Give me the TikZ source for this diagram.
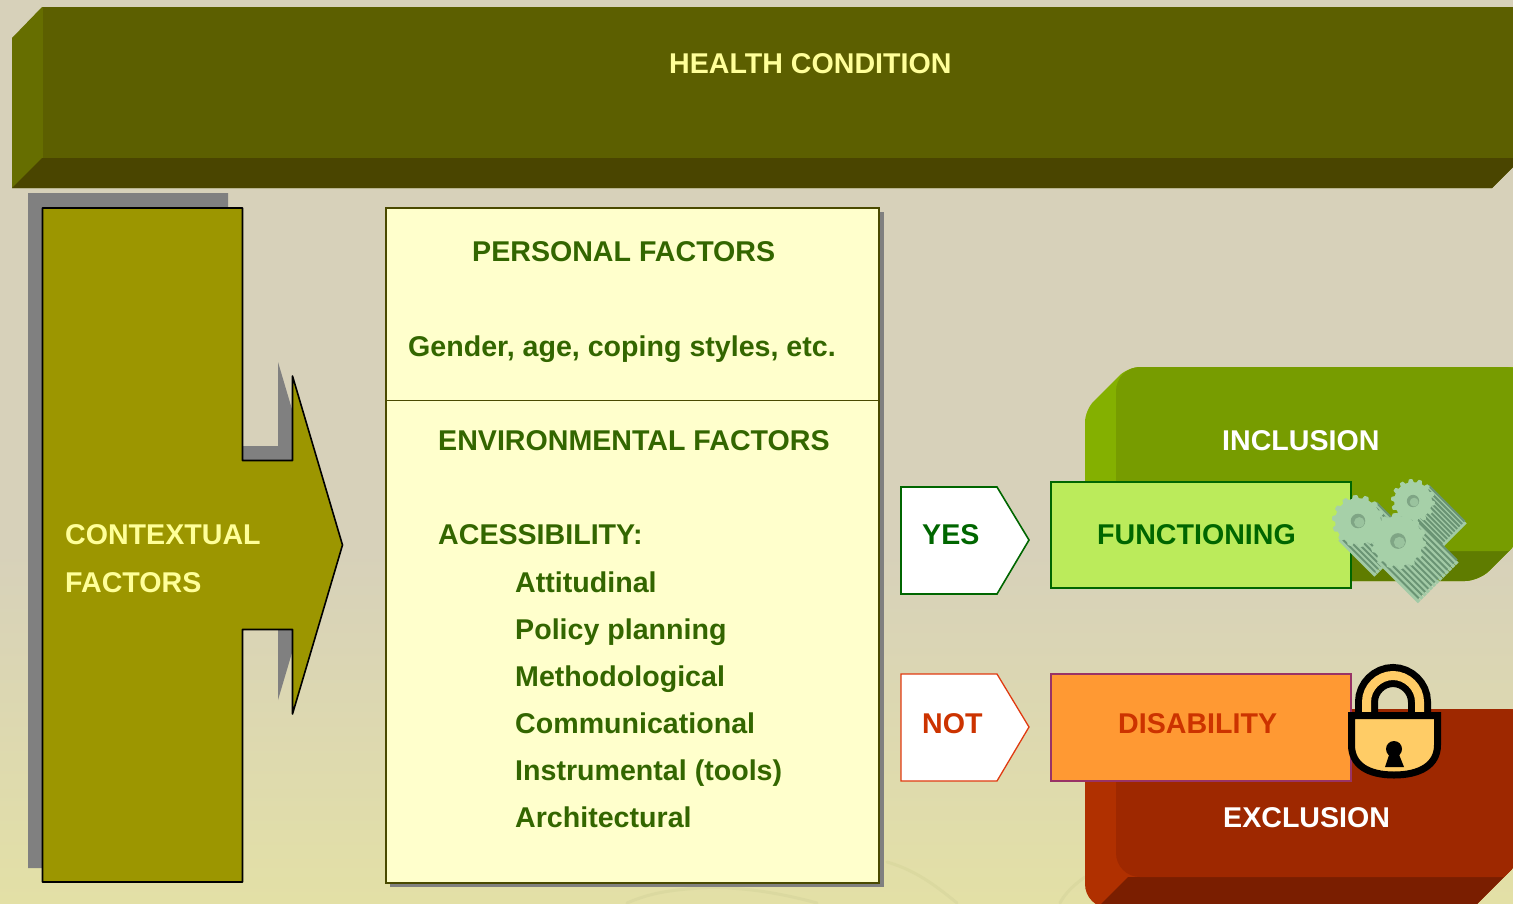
\documentclass[tikz,border=0pt]{standalone}
\usepackage{fontspec}
\setmainfont{Liberation Sans}
\definecolor{bgtop}{HTML}{D7D1BA}
\definecolor{bgbot}{HTML}{E3E0A6}
\definecolor{swoosh}{HTML}{DBD9A0}
\definecolor{hcfront}{HTML}{5C5F00}
\definecolor{hcleft}{HTML}{666E00}
\definecolor{hcbot}{HTML}{4A4500}
\definecolor{lightyellow}{HTML}{FFFF99}
\definecolor{arrowfill}{HTML}{9C9600}
\definecolor{shadowgrey}{HTML}{808080}
\definecolor{boxfill}{HTML}{FFFFCC}
\definecolor{boxline}{HTML}{4A4A00}
\definecolor{boxtext}{HTML}{336600}
\definecolor{yesgreen}{HTML}{006600}
\definecolor{notred}{HTML}{CC3300}
\definecolor{notline}{HTML}{E03A10}
\definecolor{funcfill}{HTML}{BBEB5B}
\definecolor{disfill}{HTML}{FF9933}
\definecolor{disline}{HTML}{993366}
\definecolor{incfront}{HTML}{779C00}
\definecolor{incleft}{HTML}{84B000}
\definecolor{incbot}{HTML}{5F7C00}
\definecolor{excfront}{HTML}{9E2800}
\definecolor{excleft}{HTML}{B03000}
\definecolor{excbot}{HTML}{7A1E00}
\definecolor{gearface}{HTML}{A6D0A8}
\definecolor{gearlight}{HTML}{A2CAA6}
\definecolor{geardark}{HTML}{6A9474}
\definecolor{gearhole}{HTML}{7FA585}
\definecolor{lockgold}{HTML}{FFCC66}
\tikzset{
  label text/.style={anchor=base west,inner sep=0pt,font=\fontsize{28.6}{30}\selectfont\bfseries},
  boxlabel/.style={label text,text=boxtext},
  whitelabel/.style={label text,text=white},
  yellowlabel/.style={label text,text=lightyellow},
  swooshline/.style={draw=swoosh,line width=3pt,line cap=round},
}
\newcommand{\geartooth}[3]{plot[domain=0:360,samples=169] ({#1+(#3+1.6*max(-1,min(1,3*sin(14*\x)))-1.6)*cos(\x)},{#2+(#3+1.6*max(-1,min(1,3*sin(14*\x)))-1.6)*sin(\x)})}
\newcommand{\drawgear}[4]{%
  \foreach \t in {-1,-0.84,...,1.01}{
    \draw[gearlight,line width=3.8pt] ({#1+\t*(#3)*0.707},{#2-\t*(#3)*0.707}) -- ++(#4,#4);
  }
  \foreach \t in {-0.92,-0.76,...,1.01}{
    \draw[geardark,line width=2pt] ({#1+\t*(#3)*0.707},{#2-\t*(#3)*0.707}) -- ++({#4-2},{#4-2});
  }
  \fill[gearface] \geartooth{#1}{#2}{#3} -- cycle;
  \fill[gearhole] (#1,#2) circle ({#3*0.28});
  \fill[gearface!70!gearhole] ({#1+#3*0.05},{#2+#3*0.05}) circle ({#3*0.2});
}
\begin{document}
\begin{tikzpicture}[x=1pt,y=-1pt]
\useasboundingbox (0,0) rectangle (1513,903);
\fill[bgtop] (0,0) rectangle (1513,551);
\shade[top color=bgtop,bottom color=bgbot] (0,550) rectangle (1513,903);
% faint background swooshes
\draw[swooshline] (627,903) .. controls (650,893) and (670,890) .. (700,888) .. controls (740,886) and (780,893) .. (817,903);
\draw[swooshline] (887,862) .. controls (915,870) and (935,885) .. (957,903);
\draw[swooshline] (1060,903) .. controls (1065,893) and (1075,884) .. (1085,877);

% health condition bar
\fill[hcleft] (12,38) -- (42,7) -- (1513,7) -- (1513,167) -- (1492,188) -- (12,188) -- cycle;
\fill[hcbot] (42,158) -- (1513,158) -- (1513,167) -- (1492,188) -- (12,188) -- cycle;
\fill[hcfront] (42.5,7) rectangle (1513,158);
\node[yellowlabel] (health) at (669,73) {HEALTH CONDITION};

% contextual factors arrow
\fill[shadowgrey] (28,193) -- (228,193) -- (228,446) -- (278,446) -- (278,362) -- (328,531) -- (278,700) -- (278,615) -- (228,615) -- (228,868) -- (28,868) -- cycle;
\draw[fill=arrowfill,draw=black,line width=1.6pt,line join=round] (42.5,208) -- (242.5,208) -- (242.5,460.5) -- (292.5,460.5) -- (292.5,376) -- (342.5,545) -- (292.5,714) -- (292.5,629.5) -- (242.5,629.5) -- (242.5,882) -- (42.5,882) -- cycle;
\node[yellowlabel] (ctx1) at (65,544) {CONTEXTUAL};
\node[yellowlabel] (ctx2) at (65,592) {FACTORS};

% central box
\fill[shadowgrey] (390,212) rectangle (884,887);
\draw[fill=boxfill,draw=boxline,line width=1.6pt] (386,208) rectangle (879,883);
\draw[boxline,line width=1.8pt] (386,400.5) -- (879,400.5);
\node[boxlabel] (personal) at (472,261) {PERSONAL FACTORS};
\node[boxlabel] (gender) at (408,356) {Gender, age, coping styles, etc.};
\node[boxlabel] (env) at (438,450) {ENVIRONMENTAL FACTORS};
\node[boxlabel] (acc) at (438,544) {ACESSIBILITY:};
\node[boxlabel] (a1) at (515,592) {Attitudinal};
\node[boxlabel] (a2) at (515,639) {Policy planning};
\node[boxlabel] (a3) at (515,686) {Methodological};
\node[boxlabel] (a4) at (515,733) {Communicational};
\node[boxlabel] (a5) at (515,780) {Instrumental (tools)};
\node[boxlabel] (a6) at (515,827) {Architectural};

% inclusion block
\begin{scope}
  \clip[rounded corners=12pt] (1085,600) -- (1085,410) -- (1128,367) -- (1560,367) -- (1560,600) -- cycle;
  \clip[rounded corners=14pt] (1000,581) -- (1479,581) -- (1540,520) -- (1540,300) -- (1000,300) -- cycle;
  \fill[incleft] (1085,360) rectangle (1513,590);
  \fill[incbot] (1116,550) -- (1513,550) -- (1513,590) -- (1085,590) -- cycle;
  \fill[incfront,rounded corners=24pt] (1116,367) rectangle (1530,551);
\end{scope}
\node[whitelabel] (incl) at (1222,450) {INCLUSION};

% exclusion block
\begin{scope}
  \clip[rounded corners=24pt] (1085,740) -- (1116,709) -- (1560,709) -- (1560,908) -- (1085,908) -- cycle;
  \clip (1000,700) -- (1540,700) -- (1540,841) -- (1473,908) -- (1000,908) -- cycle;
  \fill[excleft] (1085,700) rectangle (1513,908);
  \fill[excbot] (1128,877) -- (1513,877) -- (1513,908) -- (1097,908) -- cycle;
  \fill[excfront,rounded corners=24pt] (1116,709) rectangle (1530,877);
  \fill[excfront] (1160,860) rectangle (1513,877);
\end{scope}
\node[whitelabel] (excl) at (1223,827) {EXCLUSION};

% yes / not tags
\draw[fill=white,draw=yesgreen,line width=1.6pt] (901,487) -- (997,487) -- (1029,540) -- (997,594) -- (901,594) -- cycle;
\node[label text,text=yesgreen] (yes) at (922,544) {YES};
\draw[fill=white,draw=notline,line width=1.3pt] (901,674) -- (997,674) -- (1029,727) -- (997,781) -- (901,781) -- cycle;
\node[label text,text=notred] (not) at (922,733) {NOT};

% functioning / disability
\draw[fill=funcfill,draw=yesgreen,line width=1.6pt] (1051,482) rectangle (1351,588);
\node[label text,text=yesgreen] (func) at (1097,544) {FUNCTIONING};
\draw[fill=disfill,draw=disline,line width=1.6pt] (1051,674) rectangle (1351,781);
\node[label text,text=notred] (dis) at (1118,733) {DISABILITY};

% gears
\drawgear{1413}{501}{22}{38}
\drawgear{1358}{521}{26}{36}
\drawgear{1398}{541}{28}{41}

% padlock
\draw[black,line width=23pt,line cap=butt] (1366.5,716) -- (1366.5,702) .. controls (1366.5,687.4) and (1378.9,675.5) .. (1393,675.5) .. controls (1407.1,675.5) and (1419.5,687.4) .. (1419.5,702) -- (1419.5,716);
\draw[lockgold,line width=9pt,line cap=butt] (1366.5,712) -- (1366.5,702) .. controls (1366.5,687.4) and (1378.9,675.5) .. (1393,675.5) .. controls (1407.1,675.5) and (1419.5,687.4) .. (1419.5,702) -- (1419.5,712);
\draw[fill=lockgold,draw=black,line width=7pt,line join=miter] (1351.5,715.5) -- (1437.5,715.5) -- (1437.5,745) .. controls (1437.5,765) and (1420,775) .. (1394,775) .. controls (1368,775) and (1351.5,765) .. (1351.5,745) -- cycle;
\fill[black] (1394,749) circle (8);
\fill[black] (1390,752) -- (1398,752) -- (1404,767) -- (1385,767) -- cycle;
\end{tikzpicture}
\end{document}
